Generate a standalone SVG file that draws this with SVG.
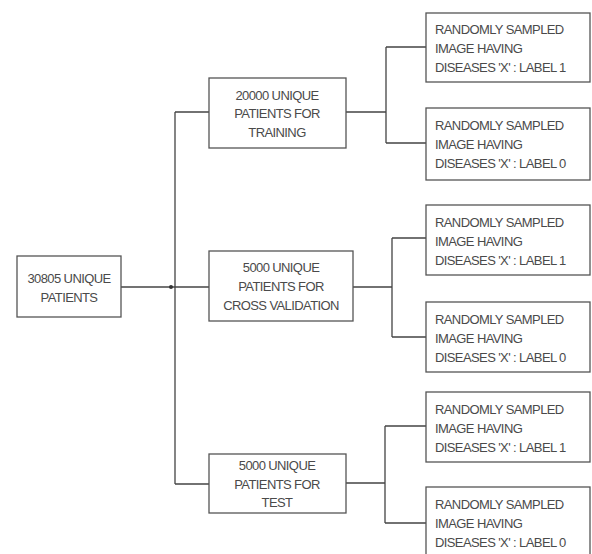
<svg xmlns="http://www.w3.org/2000/svg" width="592" height="554" viewBox="0 0 592 554">
<style>
.box{fill:#fff;stroke:#555;stroke-width:1.3}
.ln{fill:none;stroke:#444;stroke-width:1.3}
text{font-family:"Liberation Sans",Arial,sans-serif;font-size:13px;fill:#4a4a4a;letter-spacing:-0.6px}
.c{text-anchor:middle}
</style>
<rect width="592" height="554" fill="#fff"/>
<g id="connectors">
<path class="ln" d="M121,287 H209"/>
<path class="ln" d="M175,112 V484 M175,112 H209 M175,484 H209"/>
<circle cx="171" cy="287" r="2" fill="#333"/>
<path class="ln" d="M346,112 H386 M386,47 V143 M386,47 H426 M386,143 H426"/>
<path class="ln" d="M353,287 H392 M392,238 V337 M392,238 H426 M392,337 H426"/>
<path class="ln" d="M346,483 H385 M385,426 V523 M385,426 H426 M385,523 H426"/>
</g>
<g id="root"><rect class="box" x="17" y="256" width="104" height="61"/>
<text class="c" x="69" y="283">30805 UNIQUE</text><text class="c" x="69" y="302">PATIENTS</text></g>
<g id="training"><rect class="box" x="209" y="78" width="137" height="70"/>
<text class="c" x="277" y="100">20000 UNIQUE</text><text class="c" x="277" y="118">PATIENTS FOR</text><text class="c" x="277" y="137">TRAINING</text></g>
<g id="validation"><rect class="box" x="209" y="251" width="144" height="70"/>
<text class="c" x="281" y="272">5000 UNIQUE</text><text class="c" x="281" y="291">PATIENTS FOR</text><text class="c" x="281" y="310">CROSS VALIDATION</text></g>
<g id="test"><rect class="box" x="209" y="454" width="137" height="59"/>
<text class="c" x="277" y="470">5000 UNIQUE</text><text class="c" x="277" y="489">PATIENTS FOR</text><text class="c" x="277" y="507">TEST</text></g>
<g id="train1"><rect class="box" x="426" y="13" width="164" height="69"/>
<text x="435" y="34">RANDOMLY SAMPLED</text><text x="435" y="53">IMAGE HAVING</text><text x="435" y="72">DISEASES 'X' : LABEL 1</text></g>
<g id="train0"><rect class="box" x="426" y="108" width="164" height="72"/>
<text x="435" y="130">RANDOMLY SAMPLED</text><text x="435" y="149">IMAGE HAVING</text><text x="435" y="168">DISEASES 'X' : LABEL 0</text></g>
<g id="val1"><rect class="box" x="426" y="205" width="164" height="70"/>
<text x="435" y="227">RANDOMLY SAMPLED</text><text x="435" y="246">IMAGE HAVING</text><text x="435" y="265">DISEASES 'X' : LABEL 1</text></g>
<g id="val0"><rect class="box" x="426" y="302" width="164" height="70"/>
<text x="435" y="324">RANDOMLY SAMPLED</text><text x="435" y="343">IMAGE HAVING</text><text x="435" y="362">DISEASES 'X' : LABEL 0</text></g>
<g id="test1"><rect class="box" x="426" y="392" width="164" height="70"/>
<text x="435" y="414">RANDOMLY SAMPLED</text><text x="435" y="433">IMAGE HAVING</text><text x="435" y="452">DISEASES 'X' : LABEL 1</text></g>
<g id="test0"><rect class="box" x="426" y="487" width="164" height="72"/>
<text x="435" y="509">RANDOMLY SAMPLED</text><text x="435" y="528">IMAGE HAVING</text><text x="435" y="547">DISEASES 'X' : LABEL 0</text></g>
</svg>
